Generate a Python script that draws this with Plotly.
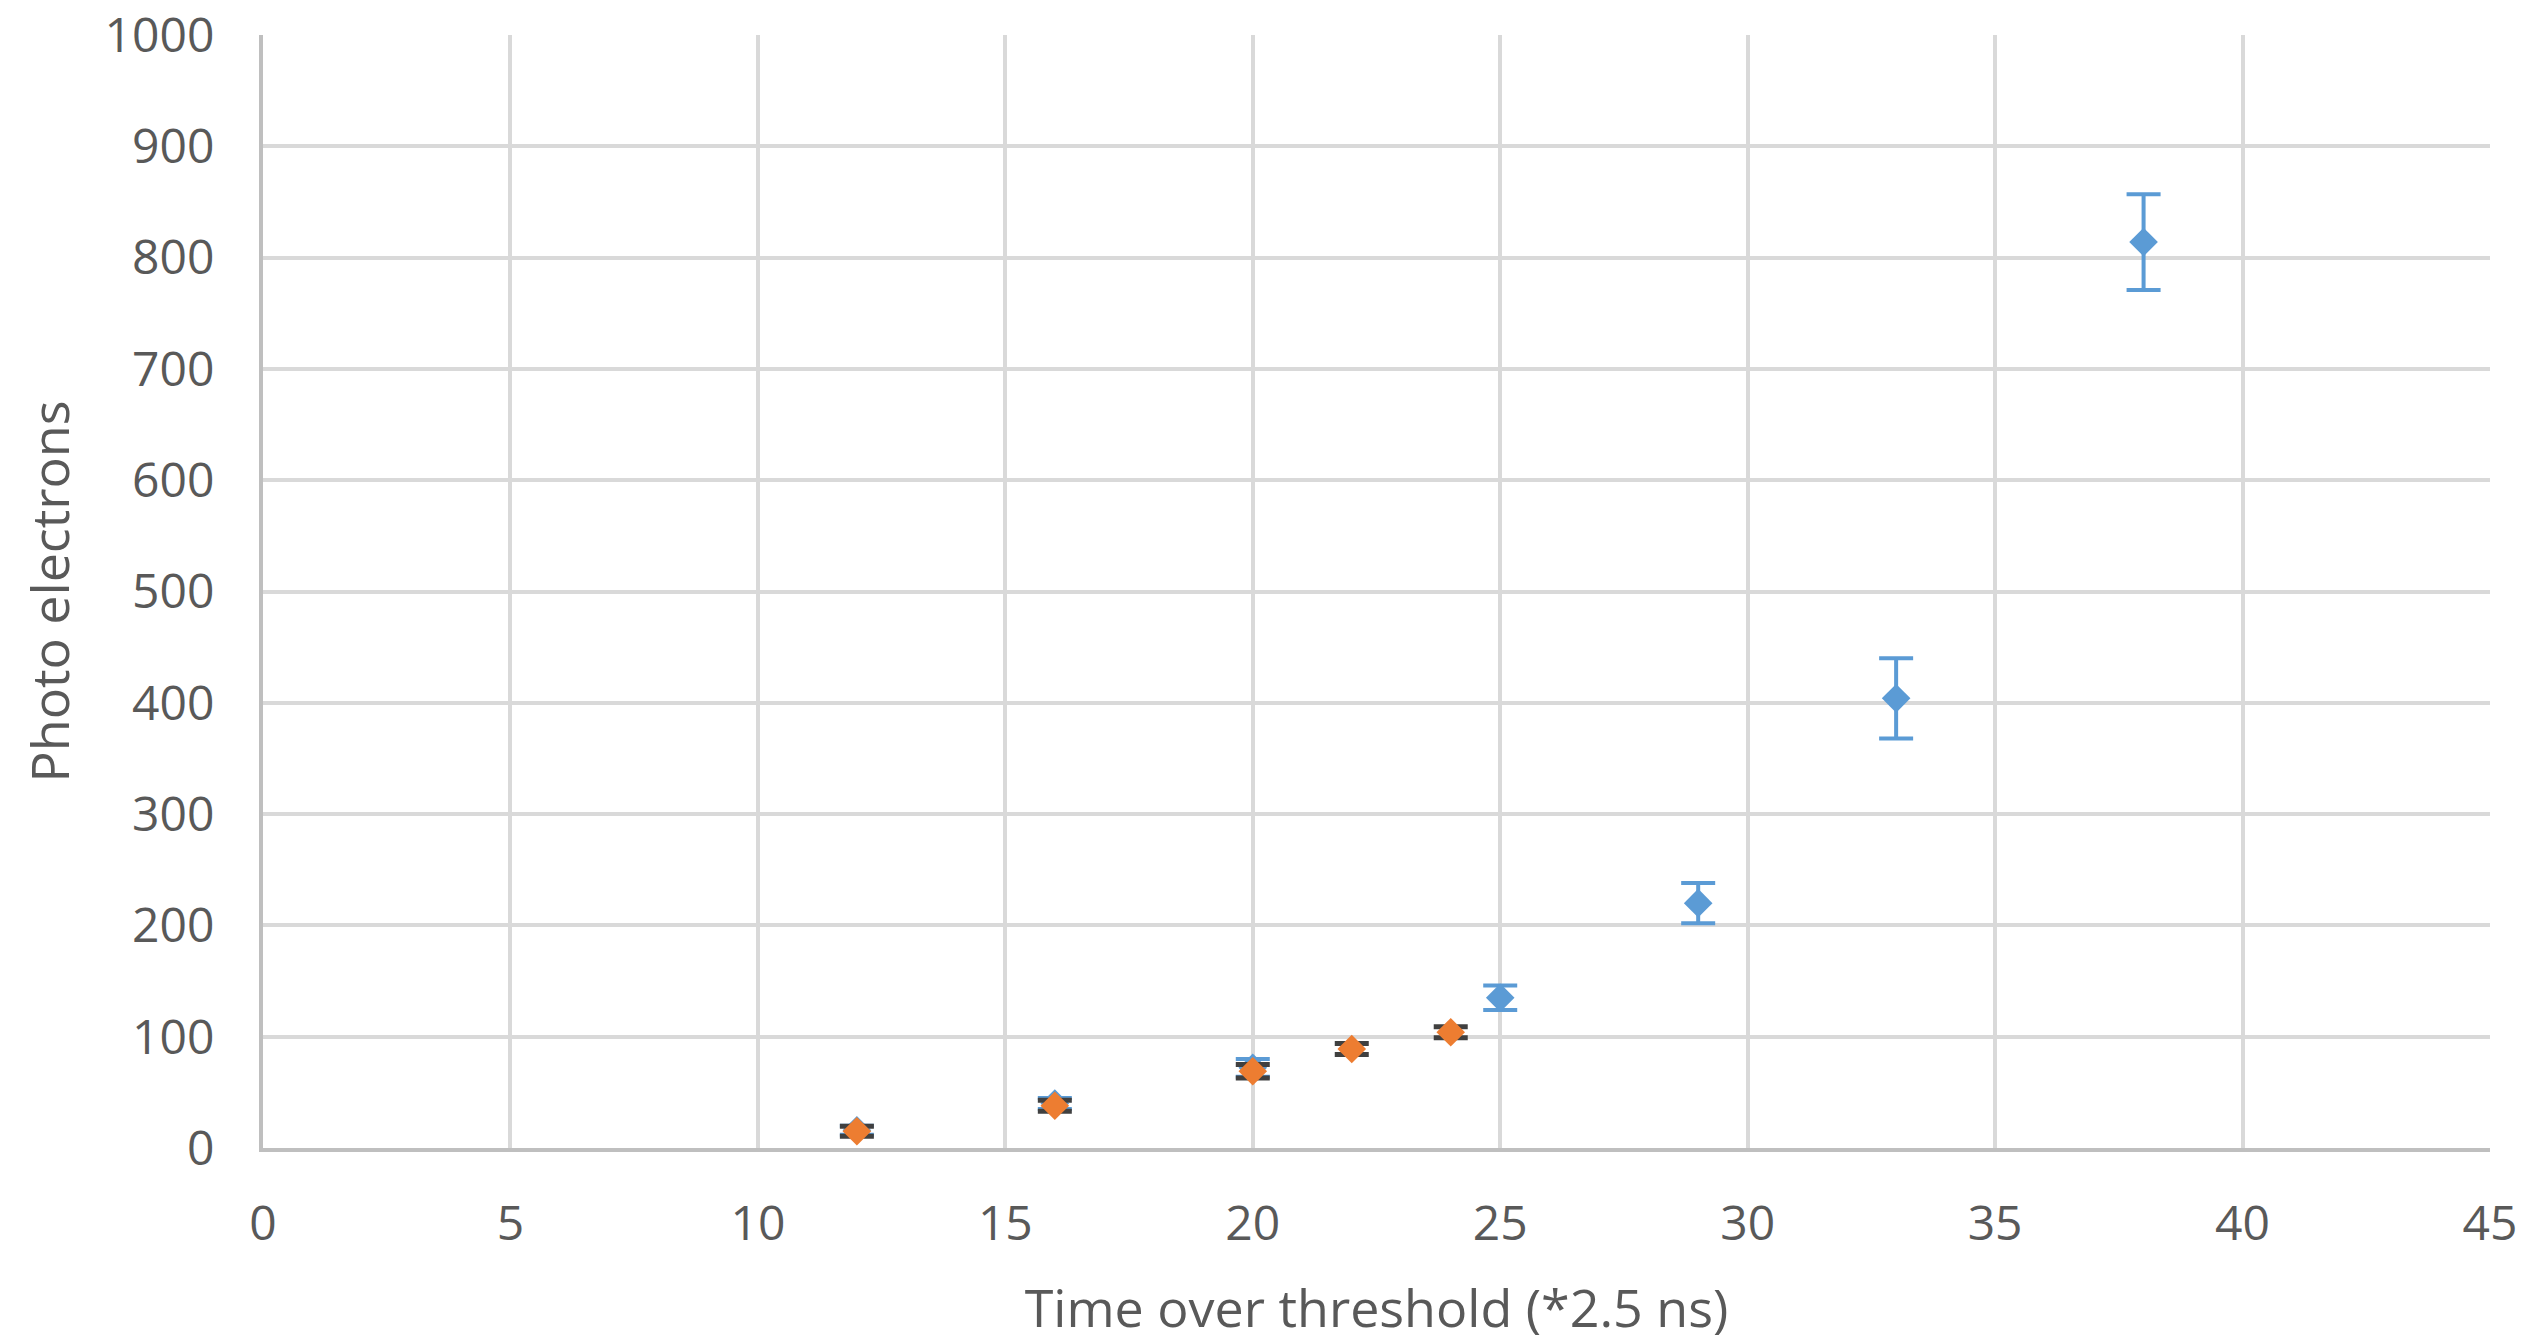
import plotly.graph_objects as go

# Blue series
blue_x = [12, 16, 20, 25, 29, 33, 38]
blue_y = [16, 40, 72, 135, 220, 404, 814]
blue_err = [4, 5, 8, 11, 18, 36, 43]

# Orange series
orange_x = [12, 16, 20, 22, 24]
orange_y = [15, 38, 69, 89, 104]
orange_err = [4.5, 5, 6, 5, 5]

x_ticks = [0, 5, 10, 15, 20, 25, 30, 35, 40, 45]
y_ticks = [0, 100, 200, 300, 400, 500, 600, 700, 800, 900, 1000]

BLUE = "#5B9BD5"
ORANGE = "#ED7D31"
TEXT = "#595959"
FONT = "Open Sans"

fig = go.Figure()
fig.add_trace(go.Scatter(
    x=blue_x, y=blue_y, mode="markers",
    marker=dict(symbol="diamond", size=22, color=BLUE),
    error_y=dict(type="data", array=blue_err, visible=True, color=BLUE, thickness=4, width=17),
    showlegend=False,
))
fig.add_trace(go.Scatter(
    x=orange_x, y=orange_y, mode="markers",
    marker=dict(symbol="diamond", size=22, color=ORANGE),
    error_y=dict(type="data", array=orange_err, visible=True, color="#404040", thickness=5, width=17),
    showlegend=False,
))

fig.update_layout(
    width=2525, height=1342,
    margin=dict(l=263, r=35, t=35, b=194),
    paper_bgcolor="white", plot_bgcolor="white",
    font=dict(family=FONT, size=48, color=TEXT),
    xaxis=dict(
        range=[0, 45], tickvals=x_ticks, ticktext=[str(v) for v in x_ticks],
        showgrid=True, gridcolor="#D9D9D9", gridwidth=4,
        showline=True, linecolor="#BFBFBF", linewidth=4,
        zeroline=False, ticks="", ticklabelstandoff=30, automargin=False,
        tickfont=dict(size=48, color=TEXT),
        title=dict(text="Time over threshold (*2.5 ns)", font=dict(size=52, color=TEXT), standoff=40),
    ),
    yaxis=dict(
        range=[0, 1000], tickvals=y_ticks, ticktext=[str(v) for v in y_ticks],
        showgrid=True, gridcolor="#D9D9D9", gridwidth=4,
        showline=True, linecolor="#BFBFBF", linewidth=4,
        zeroline=False, ticks="", ticklabelstandoff=35, automargin=False,
        tickfont=dict(size=48, color=TEXT),
        title=dict(text="Photo electrons", font=dict(size=52, color=TEXT), standoff=19),
    ),
)

fig.write_html("out.html")
